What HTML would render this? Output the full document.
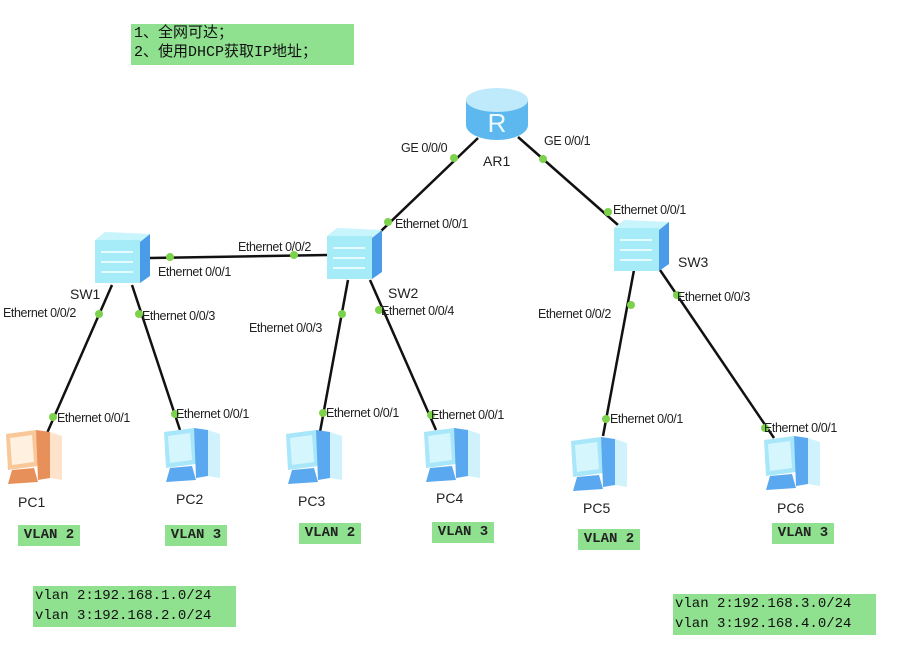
<!DOCTYPE html>
<html><head><meta charset="utf-8"><style>
body{margin:0;width:897px;height:645px;background:#fff;overflow:hidden;position:relative;font-family:"Liberation Sans",Arial,sans-serif}
.g{position:absolute;background:#8fe08f;font-family:"Liberation Mono","Noto Sans CJK SC",monospace;color:#111}
.l{position:absolute;font-size:12.5px;color:#222;white-space:nowrap;letter-spacing:-0.4px}
.n{position:absolute;font-size:14px;color:#222}
.v{position:absolute;background:#8fe08f;font-family:"Liberation Mono",monospace;font-size:14px;font-weight:bold;color:#222;height:21px;line-height:21px;width:62px;text-align:center}
</style></head><body>
<svg width="897" height="645" style="position:absolute;left:0;top:0">
<defs>
<g id="sw">
<path d="M0 8 L10 0 L55 2 L45 10 Z" fill="#c8f4fc"/>
<rect x="0" y="8" width="45" height="43" fill="#a6ecf8"/>
<path d="M45 10 L55 2 L55 44 L45 51 Z" fill="#4a9ce8"/>
<path d="M6 20 H38 M6 30 H38 M6 40 H38" stroke="#e6fbff" stroke-width="2"/>
</g>
<g id="pcb">
<path d="M6 6 L36 2 L38 38 L8 42 Z" fill="#a8e6fa"/>
<path d="M10 10 L32 7 L34 34 L12 37 Z" fill="#d6f6fe"/>
<path d="M36 2 L50 4 L50 50 L38 52 Z" fill="#5aa8f0"/>
<path d="M50 4 L62 8 L62 52 L50 50 Z" fill="#d0f2fc"/>
<path d="M12 42 L34 40 L38 54 L8 56 Z" fill="#5aa8f0"/>
</g>
<g id="pco">
<path d="M6 6 L36 2 L38 38 L8 42 Z" fill="#f8c89a"/>
<path d="M10 10 L32 7 L34 34 L12 37 Z" fill="#fff0e0"/>
<path d="M36 2 L50 4 L50 50 L38 52 Z" fill="#e8905a"/>
<path d="M50 4 L62 8 L62 52 L50 50 Z" fill="#fde3cc"/>
<path d="M12 42 L34 40 L38 54 L8 56 Z" fill="#e8905a"/>
</g>
</defs>
<g stroke="#111" stroke-width="2.5">
<line x1="478" y1="138" x2="380" y2="232"/>
<line x1="518" y1="137" x2="618" y2="225"/>
<line x1="150" y1="258" x2="327" y2="255"/>
<line x1="112" y1="285" x2="44" y2="440"/>
<line x1="132" y1="285" x2="180" y2="430"/>
<line x1="348" y1="280" x2="320" y2="432"/>
<line x1="370" y1="280" x2="436" y2="430"/>
<line x1="634" y1="270" x2="603" y2="436"/>
<line x1="660" y1="270" x2="774" y2="438"/>
</g>
<g fill="#7cd24a">
<circle cx="454" cy="158" r="4"/><circle cx="543" cy="159" r="4"/>
<circle cx="388" cy="222" r="4"/><circle cx="608" cy="212" r="4"/>
<circle cx="170" cy="257" r="4"/><circle cx="294" cy="255" r="4"/>
<circle cx="99" cy="314" r="4"/><circle cx="139" cy="314" r="4"/>
<circle cx="342" cy="314" r="4"/><circle cx="379" cy="310" r="4"/>
<circle cx="631" cy="305" r="4"/><circle cx="677" cy="295" r="4"/>
<circle cx="53" cy="417" r="4"/><circle cx="175" cy="414" r="4"/>
<circle cx="323" cy="413" r="4"/><circle cx="431" cy="415" r="4"/>
<circle cx="606" cy="419" r="4"/><circle cx="765" cy="428" r="4"/>
</g>
<ellipse cx="497" cy="125" rx="31" ry="15" fill="#5cb8ee"/>
<rect x="466" y="100" width="62" height="25" fill="#5cb8ee"/>
<ellipse cx="497" cy="100" rx="31" ry="12" fill="#bfeafc"/>
<text x="497" y="132" font-size="26" fill="#eefaff" text-anchor="middle" font-family="Liberation Sans">R</text>
<use href="#sw" x="95" y="232"/>
<use href="#sw" x="327" y="228"/>
<use href="#sw" x="614" y="220"/>
<use href="#pco" x="0" y="428"/>
<use href="#pcb" x="158" y="426"/>
<use href="#pcb" x="280" y="428"/>
<use href="#pcb" x="418" y="426"/>
<use href="#pcb" x="565" y="435"/>
<use href="#pcb" x="758" y="434"/>
</svg>
<div class="g" style="left:131px;top:24px;width:223px;height:41px;font-size:15px;line-height:19px;padding-left:3px;box-sizing:border-box">1、全网可达；<br>2、使用DHCP获取IP地址；</div>
<div class="n" style="left:483px;top:153px">AR1</div>
<div class="n" style="left:70px;top:286px">SW1</div>
<div class="n" style="left:388px;top:285px">SW2</div>
<div class="n" style="left:678px;top:254px">SW3</div>
<div class="l" style="left:401px;top:141px">GE 0/0/0</div>
<div class="l" style="left:544px;top:134px">GE 0/0/1</div>
<div class="l" style="left:395px;top:217px">Ethernet 0/0/1</div>
<div class="l" style="left:613px;top:203px">Ethernet 0/0/1</div>
<div class="l" style="left:238px;top:240px">Ethernet 0/0/2</div>
<div class="l" style="left:158px;top:265px">Ethernet 0/0/1</div>
<div class="l" style="left:3px;top:306px">Ethernet 0/0/2</div>
<div class="l" style="left:142px;top:309px">Ethernet 0/0/3</div>
<div class="l" style="left:249px;top:321px">Ethernet 0/0/3</div>
<div class="l" style="left:381px;top:304px">Ethernet 0/0/4</div>
<div class="l" style="left:538px;top:307px">Ethernet 0/0/2</div>
<div class="l" style="left:677px;top:290px">Ethernet 0/0/3</div>
<div class="l" style="left:57px;top:411px">Ethernet 0/0/1</div>
<div class="l" style="left:176px;top:407px">Ethernet 0/0/1</div>
<div class="l" style="left:326px;top:406px">Ethernet 0/0/1</div>
<div class="l" style="left:431px;top:408px">Ethernet 0/0/1</div>
<div class="l" style="left:610px;top:412px">Ethernet 0/0/1</div>
<div class="l" style="left:764px;top:421px">Ethernet 0/0/1</div>
<div class="n" style="left:18px;top:494px">PC1</div>
<div class="n" style="left:176px;top:491px">PC2</div>
<div class="n" style="left:298px;top:493px">PC3</div>
<div class="n" style="left:436px;top:490px">PC4</div>
<div class="n" style="left:583px;top:500px">PC5</div>
<div class="n" style="left:777px;top:500px">PC6</div>
<div class="v" style="left:18px;top:525px">VLAN 2</div>
<div class="v" style="left:165px;top:525px">VLAN 3</div>
<div class="v" style="left:299px;top:523px">VLAN 2</div>
<div class="v" style="left:432px;top:522px">VLAN 3</div>
<div class="v" style="left:578px;top:529px">VLAN 2</div>
<div class="v" style="left:772px;top:523px">VLAN 3</div>
<div class="g" style="left:33px;top:586px;width:203px;height:41px;font-size:14px;line-height:20px;padding-left:2px;box-sizing:border-box">vlan 2:192.168.1.0/24<br>vlan 3:192.168.2.0/24</div>
<div class="g" style="left:673px;top:594px;width:203px;height:41px;font-size:14px;line-height:20px;padding-left:2px;box-sizing:border-box">vlan 2:192.168.3.0/24<br>vlan 3:192.168.4.0/24</div>
</body></html>
